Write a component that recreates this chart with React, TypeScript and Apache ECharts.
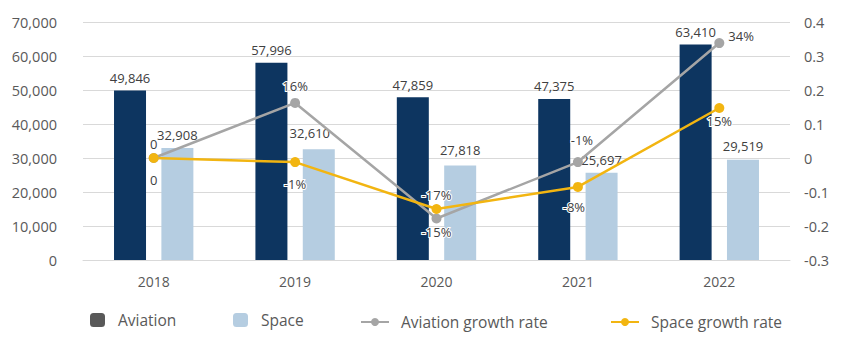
import React, { useEffect, useRef } from "react";
import * as echarts from "echarts";

const years = ["2018", "2019", "2020", "2021", "2022"];
const aviation = [49846, 57996, 47859, 47375, 63410];
const space = [32908, 32610, 27818, 25697, 29519];
const aviationGrowth = [0, 0.162, -0.178, -0.012, 0.338];
const spaceGrowth = [0, -0.012, -0.15, -0.085, 0.147];
const aviationGrowthLabels = ["0", "16%", "-17%", "-1%", "34%"];
const spaceGrowthLabels = ["0", "-1%", "-15%", "-8%", "15%"];

const NAVY = "#0d3560";
const LIGHT = "#b5cde1";
const GRAY = "#a5a5a5";
const YELLOW = "#f2b511";
const TXT = "#404040";
const AX = "#595959";
const FONT = "'Open Sans', 'Noto Sans', sans-serif";

// label placement configs (styling only)
const grayLabelCfg: any[] = [
  { position: "top", distance: 3 },
  { position: "top", distance: 5 },
  { position: "top", distance: 12 },
  { position: "top", distance: 11, offset: [4, 0] },
  { position: "right", distance: 4, offset: [0, -7] },
];
const yellowLabelCfg: any[] = [
  { position: "bottom", distance: 10 },
  { position: "bottom", distance: 10 },
  { position: "bottom", distance: 11 },
  { position: "bottom", distance: 9, offset: [-4, 0] },
  { position: "bottom", distance: 1 },
];
const spaceLabelCfg: any[] = [
  { distance: 7 },
  { distance: 10, offset: [-9, 0] },
  { distance: 9 },
  { distance: 6 },
  { distance: 7 },
];

const fmt = (v: number) => v.toLocaleString("en-US");

export default function App() {
  const ref = useRef<HTMLDivElement>(null);
  useEffect(() => {
    if (!ref.current) return;
    const chart = echarts.init(ref.current, undefined, { renderer: "svg" });
    const lineLabelBase = {
      show: true,
      color: TXT,
      fontSize: 13,
      fontFamily: FONT,
      textBorderColor: "#ffffff",
      textBorderWidth: 2,
    };
    const legendBase = (name: string, left: number, isLine: boolean, color?: string) => ({
      show: true,
      left,
      top: isLine ? 314 : 312,
      padding: 0,
      itemWidth: isLine ? 28 : 15,
      itemHeight: isLine ? 10 : 14,
      data: [color ? { name, itemStyle: { color } } : { name }],
      textStyle: {
        color: AX,
        fontSize: 15.5,
        fontFamily: FONT,
        padding: [0, 0, 0, isLine ? 7 : 8],
      },
    });
    chart.setOption({
      animation: false,
      grid: { left: 83, right: 60, top: 22, bottom: 95, containLabel: false },
      legend: [
        legendBase("Aviation", 90, false, "#595959"),
        legendBase("Space", 233, false),
        legendBase("Aviation growth rate", 360, true),
        legendBase("Space growth rate", 610, true),
      ],
      xAxis: {
        type: "category",
        data: years,
        axisLine: { lineStyle: { color: "#d9d9d9", width: 1 } },
        axisTick: { show: false },
        axisLabel: { color: AX, fontSize: 14, fontFamily: FONT, margin: 14 },
      },
      yAxis: [
        {
          type: "value",
          min: 0,
          max: 70000,
          interval: 10000,
          axisLine: { show: false },
          axisTick: { show: false },
          splitLine: { lineStyle: { color: "#d9d9d9", width: 1 } },
          axisLabel: {
            color: AX,
            fontSize: 14.5,
            fontFamily: FONT,
            margin: 26,
            formatter: (v: number) => fmt(v),
          },
        },
        {
          type: "value",
          min: -0.3,
          max: 0.4,
          interval: 0.1,
          axisLine: { show: false },
          axisTick: { show: false },
          splitLine: { show: false },
          axisLabel: {
            color: AX,
            fontSize: 14.5,
            fontFamily: FONT,
            margin: 14,
            formatter: (v: number) => {
              const r = Math.round(v * 10) / 10;
              return r === 0 ? "0" : String(r);
            },
          },
        },
      ],
      series: [
        {
          name: "Aviation",
          type: "bar",
          data: aviation,
          barWidth: 32,
          barGap: "48%",
          itemStyle: { color: NAVY },
          label: {
            show: true,
            position: "top",
            distance: 6,
            color: TXT,
            fontSize: 13,
            fontFamily: FONT,
            formatter: (p: any) => fmt(p.value),
          },
        },
        {
          name: "Space",
          type: "bar",
          data: space.map((v, i) => ({ value: v, label: spaceLabelCfg[i] })),
          barWidth: 32,
          itemStyle: { color: LIGHT },
          label: {
            show: true,
            position: "top",
            color: TXT,
            fontSize: 13,
            fontFamily: FONT,
            formatter: (p: any) => fmt(p.value),
          },
        },
        {
          name: "Aviation growth rate",
          type: "line",
          yAxisIndex: 1,
          data: aviationGrowth.map((v, i) => ({
            value: v,
            label: { ...grayLabelCfg[i], formatter: aviationGrowthLabels[i] },
          })),
          symbol: "circle",
          symbolSize: 10,
          lineStyle: { color: GRAY, width: 2.5 },
          itemStyle: { color: GRAY },
          label: lineLabelBase,
        },
        {
          name: "Space growth rate",
          type: "line",
          yAxisIndex: 1,
          data: spaceGrowth.map((v, i) => ({
            value: v,
            label: { ...yellowLabelCfg[i], formatter: spaceGrowthLabels[i] },
          })),
          symbol: "circle",
          symbolSize: 10,
          lineStyle: { color: YELLOW, width: 2.5 },
          itemStyle: { color: YELLOW },
          label: lineLabelBase,
        },
      ],
    });
    return () => chart.dispose();
  }, []);
  return <div ref={ref} style={{ width: 850, height: 355, position: "absolute", left: 0, top: 0 }} />;
}
